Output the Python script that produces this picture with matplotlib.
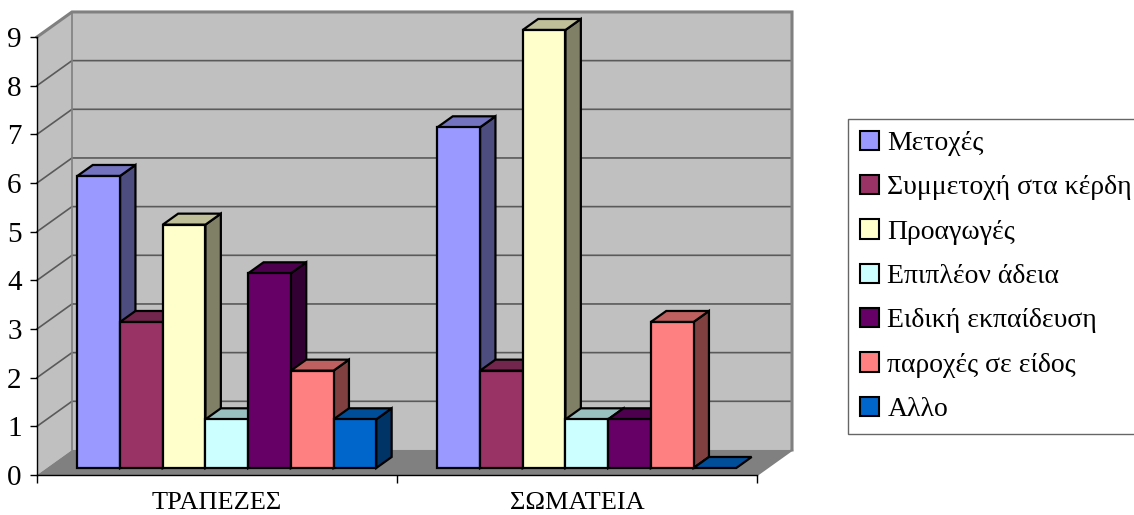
import numpy as np
import matplotlib
matplotlib.use("Agg")
import matplotlib.pyplot as plt
from matplotlib.patches import Polygon, Rectangle
from matplotlib.colors import to_rgb

plt.rcParams["font.family"] = ["Liberation Serif", "DejaVu Serif"]

# ---- data ----
categories = ["ΤΡΑΠΕΖΕΣ", "ΣΩΜΑΤΕΙΑ"]
series_names = ["Μετοχές", "Συμμετοχή στα κέρδη", "Προαγωγές", "Επιπλέον άδεια",
                "Ειδική εκπαίδευση", "παροχές σε είδος", "Αλλο"]
values_trapezes = [6, 3, 5, 1, 4, 2, 1]
values_somateia = [7, 2, 9, 1, 1, 3, 0]
series_colors = ["#9999FF", "#993366", "#FFFFCC", "#CCFFFF", "#660066", "#FF8080", "#0066CC"]
yticks = list(range(0, 10))

# ---- 3d-ish geometry (data units) ----
YMAX = 9
DX, DY = 35 / 360, 25 / 48.6       # full depth offset of the walls
F_FRONT, F_BACK = 0.28, 0.72       # bar depth position
BAR_W = 42.7 / 360
GAP = (1 - 7 * BAR_W) / 2


def shade(c, k):
    r, g, b = to_rgb(c)
    return (r * k, g * k, b * k)


fig = plt.figure(figsize=(11.34, 5.15), dpi=100)
ax = fig.add_axes([37 / 1134, 40 / 515, 720 / 1134, 438 / 515])
ax.set_xlim(0, len(categories))
ax.set_ylim(0, YMAX)
ax.patch.set_visible(False)
for s in ["top", "right"]:
    ax.spines[s].set_visible(False)
for s in ["left", "bottom"]:
    ax.spines[s].set_color("black")
    ax.spines[s].set_linewidth(1.0)
    ax.spines[s].set_zorder(1)

wall = "#C0C0C0"
edge = "#808080"
grid_c = "#5A5A5A"
ncat = len(categories)

# left wall, back wall, floor
ax.add_patch(Polygon([(0, 0), (DX, DY), (DX, YMAX + DY), (0, YMAX)], closed=True,
                     facecolor=wall, edgecolor="none", zorder=0, clip_on=False))
ax.add_patch(Rectangle((DX, DY), ncat, YMAX, facecolor=wall, edgecolor="none",
                       zorder=0, clip_on=False))
ax.add_patch(Polygon([(0, 0), (ncat, 0), (ncat + DX, DY), (DX, DY)], closed=True,
                     facecolor="#808080", edgecolor="none", zorder=0.5, clip_on=False))
for v in yticks[1:-1]:
    ax.plot([0, DX, ncat + DX], [v, v + DY, v + DY], color=grid_c, lw=1.2,
            zorder=0.2, clip_on=False)
ax.plot([0, DX, ncat + DX, ncat + DX], [YMAX, YMAX + DY, YMAX + DY, DY],
        color=edge, lw=2.2, zorder=0.3, clip_on=False, solid_joinstyle="miter")
ax.plot([DX, DX], [DY, YMAX + DY], color=edge, lw=1.2, zorder=0.3, clip_on=False)
ax.plot([ncat, ncat + DX], [0, DY], color=edge, lw=1.5, zorder=0.6, clip_on=False)

# bars
fx, fy = F_FRONT * DX, F_FRONT * DY
bx, by = (F_BACK - F_FRONT) * DX, (F_BACK - F_FRONT) * DY
z = 2
for gi, vals in enumerate([values_trapezes, values_somateia]):
    for j, (v, c) in enumerate(zip(vals, series_colors)):
        x0 = gi + GAP + j * BAR_W + fx
        y0 = fy
        x1 = x0 + BAR_W
        y1 = y0 + v
        kw = dict(closed=True, edgecolor="black", lw=1.6, clip_on=False,
                  joinstyle="miter")
        if v > 0:
            ax.add_patch(Polygon([(x1, y0), (x1 + bx, y0 + by), (x1 + bx, y1 + by), (x1, y1)],
                                 facecolor=shade(c, 0.5), zorder=z, **kw))
        ax.add_patch(Polygon([(x0, y1), (x0 + bx, y1 + by), (x1 + bx, y1 + by), (x1, y1)],
                             facecolor=shade(c, 0.75), zorder=z + 0.1, **kw))
        if v > 0:
            ax.add_patch(Polygon([(x0, y0), (x1, y0), (x1, y1), (x0, y1)],
                                 facecolor=c, zorder=z + 0.2, **kw))
        z += 1

# axes ticks
ax.set_yticks(yticks)
ax.set_yticklabels([str(t) for t in yticks])
ax.tick_params(axis="y", length=5, width=1, pad=6, labelsize=21, direction="out")
ax.set_xticks(range(ncat + 1))
ax.set_xticklabels([])
ax.tick_params(axis="x", which="major", length=6, width=1, direction="out")
ax.set_xticks([i + 0.5 for i in range(ncat)], minor=True)
ax.set_xticklabels(categories, minor=True)
ax.tick_params(axis="x", which="minor", length=0, pad=12, labelsize=19)

# legend
handles = [Rectangle((0, 0), 1, 1, facecolor=c, edgecolor="black", lw=1.5)
           for c in series_colors]
leg = fig.legend(handles, series_names, loc="upper left",
                 bbox_to_anchor=(848 / 1134, 1 - 119 / 515), fontsize=20,
                 frameon=True, fancybox=False, edgecolor="#404040",
                 handlelength=0.7, handleheight=0.7, handletextpad=0.3,
                 labelspacing=0.68, borderpad=0.42, borderaxespad=0)
leg.get_frame().set_linewidth(1.0)

fig.savefig("out.png", dpi=100)
